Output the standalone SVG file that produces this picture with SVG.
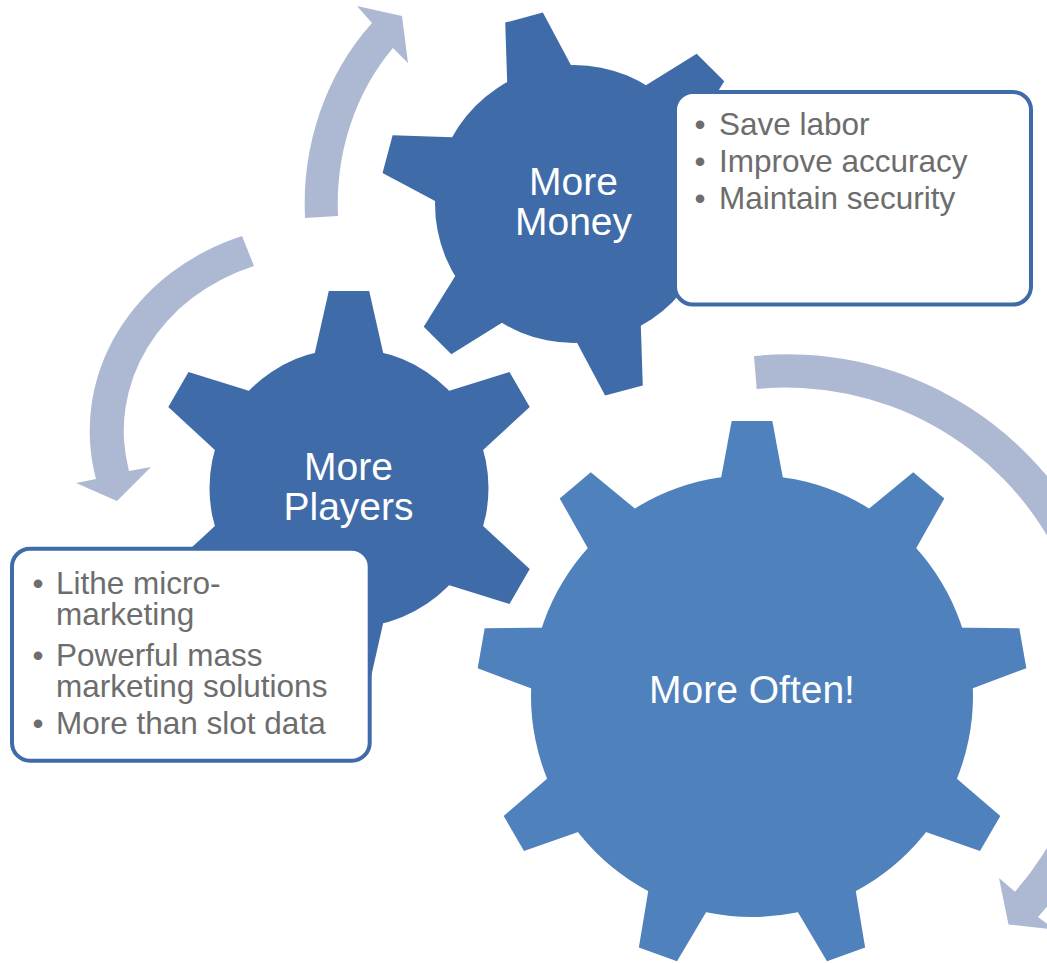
<svg xmlns="http://www.w3.org/2000/svg" xmlns:xlink="http://www.w3.org/1999/xlink" width="1047" height="963" viewBox="0 0 1047 963">
  <style>
    .gearA { fill: #3F6CA9; }
    .gearB { fill: #4F81BC; }
    .arrow { fill: #ADB9D3; }
    .box { fill: #FFFFFF; stroke: #3F6CA9; stroke-width: 4; }
    .gtext { font-family: "Liberation Sans", Arial, sans-serif; font-size: 39px; fill: #FFFFFF; text-anchor: middle; }
    .btext { font-family: "Liberation Sans", Arial, sans-serif; font-size: 31.5px; fill: #6D6D6D; }
    .bullet { font-family: "Liberation Sans", Arial, sans-serif; font-size: 31.5px; fill: #6D6D6D; text-anchor: middle; }
  </style>
  <defs>
    <polygon id="tooth1" points="-19.5,-193 19.5,-193 36.5,-120 -36.5,-120"/>
    <polygon id="tooth2" points="-20.2,-197 20.2,-197 37.6,-120 -37.6,-120"/>
    <polygon id="tooth3" points="-20.3,-275 20.3,-275 34.3,-200 -34.3,-200"/>
  </defs>
  <rect width="1047" height="963" fill="#FFFFFF"/>

  <g id="connectors">
    <path class="arrow" d="M305,218 A230,256 0 0 1 372,23 L357,6 L402,16 L408,63 L393,48 A197,224.5 0 0 0 338,216 Z"/>
    <path class="arrow" d="M242,236 A230,207 0 0 0 96,479 L76,483 L117,501 L151,467 L129,471 A196,175 0 0 1 254,266 Z"/>
    <path class="arrow" d="M754,356 A337,337 0 0 1 1038,917 L1054.8,929.6 L1008.5,924.4 L999,878 L1015,891.7 A304,304 0 0 0 756.7,389 Z"/>
  </g>

  <g id="gear-more-often">
    <g class="gearB" transform="translate(752,696)">
      <circle r="221"/>
      <use xlink:href="#tooth3" href="#tooth3"/>
      <use xlink:href="#tooth3" href="#tooth3" transform="rotate(40)"/>
      <use xlink:href="#tooth3" href="#tooth3" transform="rotate(80)"/>
      <use xlink:href="#tooth3" href="#tooth3" transform="rotate(120)"/>
      <use xlink:href="#tooth3" href="#tooth3" transform="rotate(160)"/>
      <use xlink:href="#tooth3" href="#tooth3" transform="rotate(200)"/>
      <use xlink:href="#tooth3" href="#tooth3" transform="rotate(240)"/>
      <use xlink:href="#tooth3" href="#tooth3" transform="rotate(280)"/>
      <use xlink:href="#tooth3" href="#tooth3" transform="rotate(320)"/>
    </g>
    <text class="gtext" x="752" y="703">More Often!</text>
  </g>

  <g id="gear-more-money">
    <g class="gearA" transform="translate(574,204)">
      <circle r="139"/>
      <use xlink:href="#tooth1" href="#tooth1" transform="rotate(-15)"/>
      <use xlink:href="#tooth1" href="#tooth1" transform="rotate(45)"/>
      <use xlink:href="#tooth1" href="#tooth1" transform="rotate(105)"/>
      <use xlink:href="#tooth1" href="#tooth1" transform="rotate(165)"/>
      <use xlink:href="#tooth1" href="#tooth1" transform="rotate(225)"/>
      <use xlink:href="#tooth1" href="#tooth1" transform="rotate(285)"/>
    </g>
    <text class="gtext" x="573.5" y="195">More</text>
    <text class="gtext" x="573.5" y="235">Money</text>
  </g>

  <g id="gear-more-players">
    <g class="gearA" transform="translate(349,488)">
      <circle r="139.5"/>
      <use xlink:href="#tooth2" href="#tooth2"/>
      <use xlink:href="#tooth2" href="#tooth2" transform="rotate(60)"/>
      <use xlink:href="#tooth2" href="#tooth2" transform="rotate(120)"/>
      <use xlink:href="#tooth2" href="#tooth2" transform="rotate(180)"/>
      <use xlink:href="#tooth2" href="#tooth2" transform="rotate(240)"/>
      <use xlink:href="#tooth2" href="#tooth2" transform="rotate(300)"/>
    </g>
    <text class="gtext" x="348.5" y="480">More</text>
    <text class="gtext" x="348.5" y="520">Players</text>
  </g>

  <g id="box-money">
    <rect class="box" x="675" y="92" width="356" height="212.5" rx="18" ry="18"/>
    <text class="bullet" x="700" y="134.5">•</text>
    <text class="btext" x="719" y="134.5">Save labor</text>
    <text class="bullet" x="700" y="171.8">•</text>
    <text class="btext" x="719" y="171.8">Improve accuracy</text>
    <text class="bullet" x="700" y="209">•</text>
    <text class="btext" x="719" y="209">Maintain security</text>
  </g>

  <g id="box-players">
    <rect class="box" x="12" y="548.7" width="357.7" height="212" rx="18" ry="18"/>
    <text class="bullet" x="38" y="594">•</text>
    <text class="btext" x="56" y="594">Lithe micro-</text>
    <text class="btext" x="56" y="625">marketing</text>
    <text class="bullet" x="38" y="665.5">•</text>
    <text class="btext" x="56" y="665.5">Powerful mass</text>
    <text class="btext" x="56" y="696.5">marketing solutions</text>
    <text class="bullet" x="38" y="733.5">•</text>
    <text class="btext" x="56" y="733.5">More than slot data</text>
  </g>
</svg>
